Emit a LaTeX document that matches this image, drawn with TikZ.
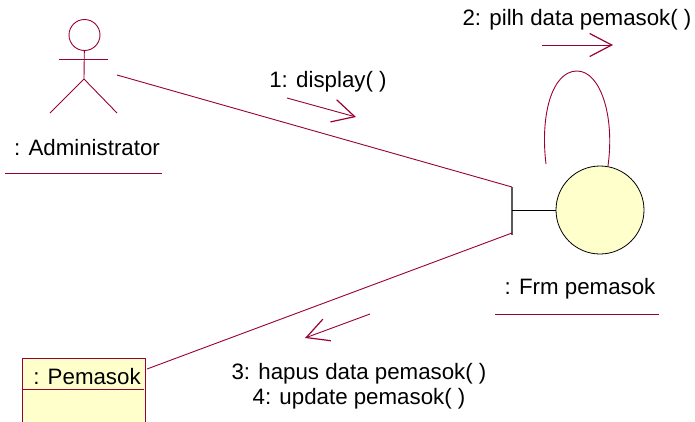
\documentclass[tikz,border=0pt]{standalone}
\usepackage{fontspec}
\setmainfont{Liberation Sans}
\usepackage{xcolor}
\usetikzlibrary{arrows.meta}
\definecolor{umlline}{HTML}{990033}
\definecolor{umlfill}{HTML}{FFFFCC}
\tikzset{
	umltext/.style={font=\fontsize{22.3}{25}\selectfont,inner sep=0pt},
	link/.style={draw=umlline,line width=0.9pt},
	msg/.style={draw=umlline,line width=0.9pt,-{Straight Barb[length=22pt,width=23pt,line width=1.2pt]}},
}

\begin{document}
\begin{tikzpicture}[x=1pt,y=-1pt]
		\clip (0,0) rectangle (695,421);
		% actor
		\node [circle,link,minimum size=31pt,inner sep=0pt] (head) at (84.5,35) {};
		\coordinate (neck) at (84,59);
		\coordinate (armL) at (59,59);
		\coordinate (armR) at (108,59);
		\coordinate (hip) at (84,79);
		\coordinate (legL) at (50,113);
		\coordinate (legR) at (117,113);
		\draw [link] (head) to (hip);
		\draw [link] (armL) to (armR);
		\draw [link] (legL) to (hip);
		\draw [link] (hip) to (legR);
		\node [umltext] (admin) at (87,148) {: Administrator};
		\coordinate (adminL) at (5,173);
		\coordinate (adminR) at (162,173);
		\draw [link] (adminL) to (adminR);

		% boundary
		\node [circle,draw=black,fill=umlfill,line width=0.8pt,minimum size=88pt,inner sep=0pt] (frm) at (600,210) {};
		\coordinate (barT) at (512,187);
		\coordinate (barM) at (512,210);
		\coordinate (barB) at (512,235);
		\draw [draw=black!65,line width=1.2pt] (barT) to (barB);
		\draw [draw=black,line width=0.8pt] (barM) to (frm);
		\node [umltext] (frmlabel) at (580,289) {: Frm pemasok};
		\coordinate (frmL) at (495,314);
		\coordinate (frmR) at (659,314);
		\draw [link] (frmL) to (frmR);

		% entity
		\node [rectangle,link,fill=umlfill,minimum width=123pt,minimum height=100pt,inner sep=0pt] (pemasok) at (83.5,408) {};
		\node [umltext] (pemasoklabel) at (87,377) {: Pemasok};
		\coordinate (sepL) at (23,389);
		\coordinate (sepR) at (144,389);
		\draw [link] (sepL) to (sepR);

		% links
		\coordinate (adminEnd) at (117,75);
		\coordinate (entEnd) at (147,369);
		\draw [link] (adminEnd) to (barT);
		\draw [link] (entEnd) to (512,233);
		\coordinate (loopA) at (546,164);
		\coordinate (loopTop) at (577,71);
		\coordinate (loopB) at (608,166);
		\draw [link] (loopA) .. controls (540,115) and (552,71) .. (loopTop) .. controls (600,71) and (615,115) .. (loopB);

		% messages
		\coordinate (m1a) at (287,98);
		\coordinate (m1b) at (356,117);
		\coordinate (m2a) at (542,45);
		\coordinate (m2b) at (613,45);
		\coordinate (m3a) at (370,314);
		\coordinate (m3b) at (305,338);
		\draw [msg] (m1a) to (m1b);
		\draw [msg] (m2a) to (m2b);
		\draw [msg] (m3a) to (m3b);
		\node [umltext] (m1) at (328,82) {1: display( )};
		\node [umltext] (m2) at (577,20) {2: pilh data pemasok( )};
		\node [umltext,align=center] (m3) at (359,386) {3: hapus data pemasok( )\\4: update pemasok( )};
\end{tikzpicture}
\end{document}
